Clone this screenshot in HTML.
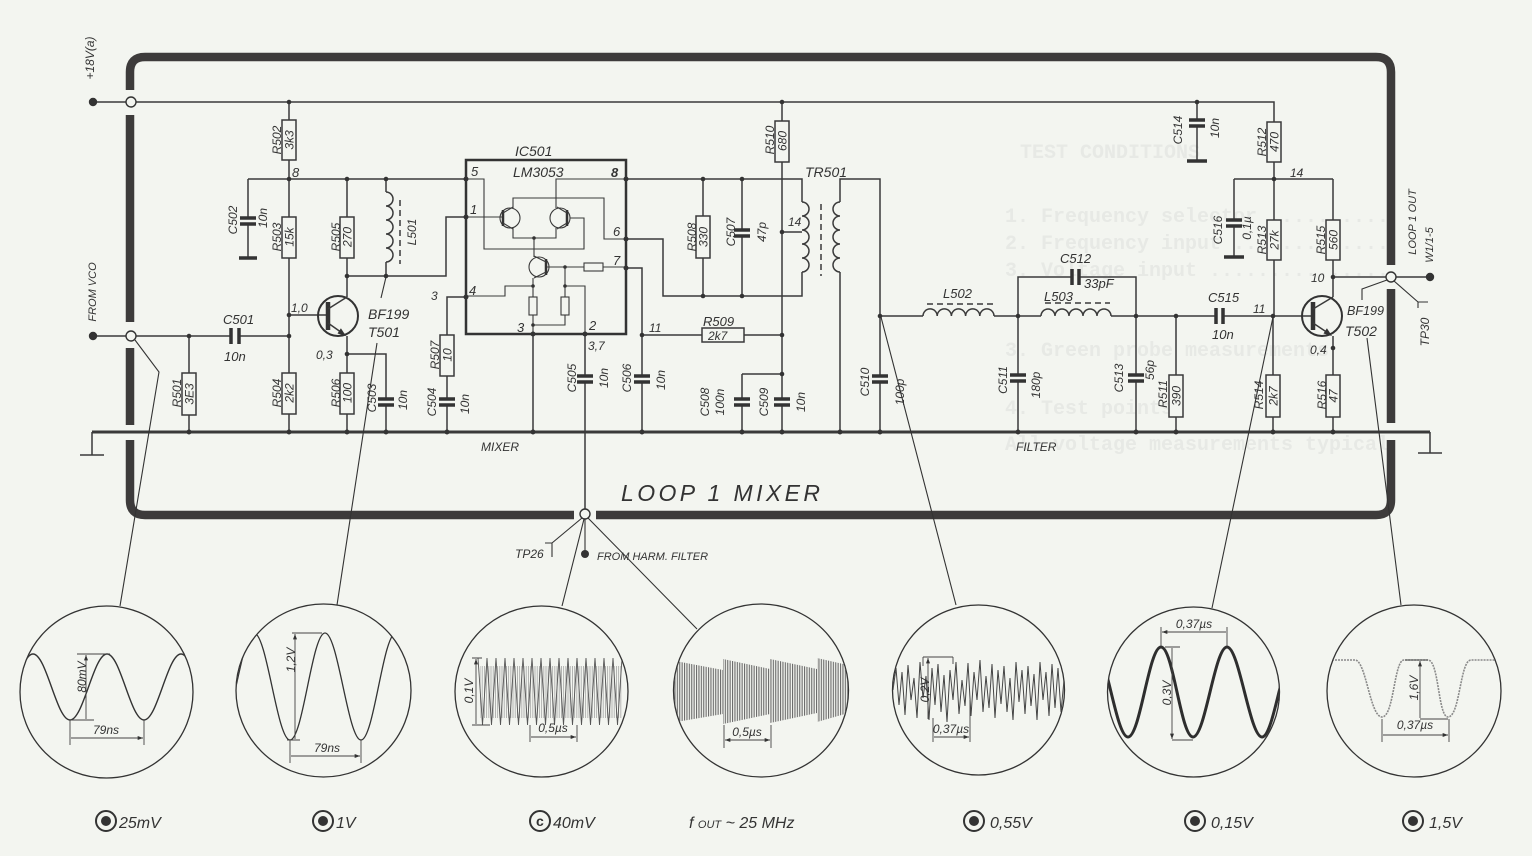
<!DOCTYPE html>
<html><head><meta charset="utf-8"><style>
html,body{margin:0;padding:0;background:#f3f5f0;}
svg{display:block}
.w{stroke:#3a3a3a;stroke-width:1.5;fill:none}
.th{stroke:#3a3a3a;stroke-width:1.1;fill:none}
.pl{stroke:#333;stroke-width:3.5;fill:none}
.r{stroke:#3a3a3a;stroke-width:1.5;fill:#f3f5f0}
.ld{stroke:#333;stroke-width:1.1;fill:none}
.dm{stroke:#444;stroke-width:0.9;fill:none}
.t{font-family:"Liberation Sans",sans-serif;font-style:italic;font-size:12px;fill:#333}
.t14{font-family:"Liberation Sans",sans-serif;font-style:italic;font-size:14px;fill:#333}
.g{font-family:"Liberation Mono",monospace;font-weight:bold;font-size:20px;fill:#e7e9e5}
</style></head><body>
<svg width="1532" height="856" viewBox="0 0 1532 856" xmlns="http://www.w3.org/2000/svg">
<defs>
<marker id="a" viewBox="0 0 8 6" refX="8" refY="3" markerWidth="6" markerHeight="4" markerUnits="userSpaceOnUse" orient="auto-start-reverse"><path d="M0,0 L8,3 L0,6z" fill="#333"/></marker>
<pattern id="vl" width="2.4" height="4" patternUnits="userSpaceOnUse"><rect width="1.1" height="4" fill="#6a6a6a"/></pattern>
<pattern id="vl2" width="2.2" height="4" patternUnits="userSpaceOnUse"><rect width="0.8" height="4" fill="#a5a5a5"/></pattern>
<clipPath id="c1"><ellipse cx="106.5" cy="692" rx="86" ry="85.5"/></clipPath>
<clipPath id="c2"><ellipse cx="323.5" cy="690.5" rx="87" ry="86"/></clipPath>
<clipPath id="c3"><ellipse cx="541.5" cy="691.5" rx="86" ry="85"/></clipPath>
<clipPath id="c4"><ellipse cx="761" cy="690.5" rx="87" ry="86"/></clipPath>
<clipPath id="c5"><ellipse cx="978.5" cy="690" rx="85.5" ry="84.5"/></clipPath>
<clipPath id="c6"><ellipse cx="1193.5" cy="692" rx="85.5" ry="84.5"/></clipPath>
<clipPath id="c7"><ellipse cx="1414" cy="691" rx="86.5" ry="85.5"/></clipPath>
</defs>
<rect width="1532" height="856" fill="#f3f5f0"/>

<!-- ghost bleed-through text -->
<text class="g" x="1020" y="158" font-size="22">TEST CONDITIONS</text>
<text class="g" x="1005" y="222">1. Frequency selector ..........</text>
<text class="g" x="1005" y="249">2. Frequency input .............</text>
<text class="g" x="1005" y="276">3. Voltage input ...............</text>
<text class="g" x="1005" y="356">3. Green probe measurements</text>
<text class="g" x="1005" y="414">4. Test points</text>
<text class="g" x="1005" y="450">All voltage measurements typical</text>

<!-- frame -->
<path d="M130,90 V72 Q130,57 145,57 H1376 Q1391,57 1391,72 V265 M1391,289 V423 M1391,440 V500 Q1391,515 1376,515 H596 M574,515 H145 Q130,515 130,500 V440 M130,425 V348 M130,322 V115" stroke="#3d3b3b" stroke-width="8.5" fill="none"/>

<!-- ground bus -->
<path d="M92,432 H1430" stroke="#3a3a3a" stroke-width="3" fill="none"/>
<path class="w" d="M92,432 V455 M80,455 H104 M1430,432 V453 M1418,453 H1442" stroke-width="2"/>

<!-- wires -->
<path class="w" d="
M97,102 H126 M136,102 H1274 V122 M1274,162 V179
M289,102 V120 M289,160 V217 M289,258 V373 M289,414 V432
M248,179 H466 M248,179 V218 M248,224 V258
M347,179 V217 M347,258 V297
M386,179 V192 M386,262 V276
M347,276 H446 V217 H466
M289,315 H328
M347,336 V373 M347,414 V432
M347,354 H386 V399 M386,405 V432
M97,336 H126 M136,336 H231 M239,336 H289
M189,336 V373 M189,415 V432
M466,297 H447 V335 M447,376 V399 M447,405 V432
M626,179 H802 V202 M802,272 V296 H663 V239 H626
M703,179 V216 M703,258 V296
M742,179 V230 M742,236 V296
M782,102 V121 M782,162 V399 M782,405 V432
M782,232 H802
M626,268 H642 V376 M642,382 V432
M642,335 H702 M744,335 H782
M742,374 H782 M742,374 V399 M742,405 V432
M585,334 V376 M585,382 V509
M533,334 V432
M880,316 V376 M880,382 V432
M880,316 V179 H840 V202 M840,272 V432
M880,316 H923 M994,316 H1041 M1111,316 H1216 M1223,316 H1313
M1018,316 V277 H1072 M1079,277 H1136 V316
M1018,316 V375 M1018,381 V432
M1136,316 V375 M1136,381 V432
M1176,316 V375 M1176,417 V432
M1273,316 V375 M1273,417 V432
M1197,102 V120 M1197,126 V160
M1234,179 H1333 M1234,179 V220 M1234,226 V256
M1274,179 V220 M1274,260 V316
M1333,179 V220 M1333,260 V297
M1333,277 H1386 M1396,277 H1426
M1333,336 V375 M1333,417 V432
"/>

<!-- coils -->
<path class="w" d="M386,192 a7,7 0 0 1 0,14 a7,7 0 0 1 0,14 a7,7 0 0 1 0,14 a7,7 0 0 1 0,14 a7,7 0 0 1 0,14"/>
<path class="w" d="M802,202 a7,7 0 0 1 0,14 a7,7 0 0 1 0,14 a7,7 0 0 1 0,14 a7,7 0 0 1 0,14 a7,7 0 0 1 0,14"/>
<path class="w" d="M840,202 a7,7 0 0 0 0,14 a7,7 0 0 0 0,14 a7,7 0 0 0 0,14 a7,7 0 0 0 0,14 a7,7 0 0 0 0,14"/>
<path class="w" d="M923,316 a7.1,7.1 0 0 1 14.2,0 a7.1,7.1 0 0 1 14.2,0 a7.1,7.1 0 0 1 14.2,0 a7.1,7.1 0 0 1 14.2,0 a7.1,7.1 0 0 1 14.2,0"/>
<path class="w" d="M1041,316 a7,7 0 0 1 14,0 a7,7 0 0 1 14,0 a7,7 0 0 1 14,0 a7,7 0 0 1 14,0 a7,7 0 0 1 14,0"/>
<path class="w" stroke-dasharray="6,4" d="M400,200 V264 M821,204 V276 M927,304 H995 M1045,303 H1110"/>

<!-- capacitor plates -->
<path class="pl" d="
M240,218 h16 M240,224 h16 M239,258 h18
M231,328 v16 M239,328 v16
M378,399 h16 M378,405 h16
M439,399 h16 M439,405 h16
M577,376 h16 M577,382 h16
M634,376 h16 M634,382 h16
M734,230 h16 M734,236 h16
M734,399 h16 M734,405 h16
M774,399 h16 M774,405 h16
M872,376 h16 M872,382 h16
M1010,375 h16 M1010,381 h16
M1128,375 h16 M1128,381 h16
M1072,269 v16 M1079,269 v16
M1216,308 v16 M1223,308 v16
M1189,120 h16 M1189,126 h16 M1187,161 h20
M1226,220 h16 M1226,226 h16 M1224,257 h20
"/>

<!-- resistors -->
<g class="r">
<rect x="282" y="120" width="14" height="40"/>
<rect x="282" y="217" width="14" height="41"/>
<rect x="340" y="217" width="14" height="41"/>
<rect x="182" y="373" width="14" height="42"/>
<rect x="282" y="373" width="14" height="41"/>
<rect x="340" y="373" width="14" height="41"/>
<rect x="440" y="335" width="14" height="41"/>
<rect x="696" y="216" width="14" height="42"/>
<rect x="775" y="121" width="14" height="41"/>
<rect x="702" y="328" width="42" height="14"/>
<rect x="1267" y="122" width="14" height="40"/>
<rect x="1267" y="220" width="14" height="40"/>
<rect x="1326" y="220" width="14" height="40"/>
<rect x="1169" y="375" width="14" height="42"/>
<rect x="1266" y="375" width="14" height="42"/>
<rect x="1326" y="375" width="14" height="42"/>
</g>

<!-- transistors -->
<circle cx="338" cy="316" r="20" stroke="#333" stroke-width="2" fill="none"/>
<path d="M328,302 V330" stroke="#333" stroke-width="4.5"/>
<path class="w" d="M328,309 L347,297 M328,323 L345,335"/>
<polygon points="346,336 337.5,333.5 340.9,328.2" fill="#333"/>
<circle cx="1322" cy="316" r="20" stroke="#333" stroke-width="2" fill="none"/>
<path d="M1313,302 V330" stroke="#333" stroke-width="4.5"/>
<path class="w" d="M1313,309 L1333,297 M1313,323 L1331,335"/>
<polygon points="1332,336 1323.5,333.5 1326.9,328.2" fill="#333"/>

<!-- IC -->
<rect x="466" y="160" width="160" height="174" stroke="#333" stroke-width="2.5" fill="none"/>
<path class="th" d="
M466,179 H484 V249 H584 V218 H570
M466,217 H503
M513,208 V198 H604 V239 H626
M556,208 V179 H626
M513,228 V238 H556 V228
M534,238 V257
M546,267 H584 M603,267 H626
M565,267 V286 H585 V334
M533,278 V297 M533,315 V334
M533,286 H505 V296 H466
M565,286 V297 M565,315 V325 H533
"/>
<circle cx="510" cy="218" r="10" class="th"/>
<path d="M503,210 V226" stroke="#333" stroke-width="2.5"/>
<path class="th" d="M503,213 L513,207 M503,223 L513,229"/>
<circle cx="560" cy="218" r="10" class="th"/>
<path d="M567,210 V226" stroke="#333" stroke-width="2.5"/>
<path class="th" d="M567,213 L557,207 M567,223 L557,229"/>
<circle cx="539" cy="267" r="10" class="th"/>
<path d="M546,259 V275" stroke="#333" stroke-width="2.5"/>
<path class="th" d="M546,262 L534,256 M546,272 L534,278"/>
<rect x="584" y="263" width="19" height="8" class="th" fill="#f3f5f0"/>
<rect x="529" y="297" width="8" height="18" class="th" fill="#f3f5f0"/>
<rect x="561" y="297" width="8" height="18" class="th" fill="#f3f5f0"/>

<!-- junction dots -->
<g fill="#333">
<circle cx="289" cy="102" r="2.3"/><circle cx="782" cy="102" r="2.3"/><circle cx="1197" cy="102" r="2.3"/>
<circle cx="289" cy="179" r="2.3"/><circle cx="347" cy="179" r="2.3"/><circle cx="386" cy="179" r="2.3"/><circle cx="466" cy="179" r="2.5"/><circle cx="626" cy="179" r="2.5"/>
<circle cx="466" cy="217" r="2.5"/><circle cx="466" cy="297" r="2.5"/><circle cx="626" cy="239" r="2.5"/><circle cx="626" cy="268" r="2.5"/>
<circle cx="533" cy="334" r="2.5"/><circle cx="585" cy="334" r="2.5"/><circle cx="534" cy="238" r="1.8"/><circle cx="565" cy="267" r="1.8"/><circle cx="565" cy="286" r="1.8"/><circle cx="533" cy="286" r="1.8"/><circle cx="533" cy="325" r="1.8"/>
<circle cx="289" cy="315" r="2.3"/><circle cx="289" cy="336" r="2.3"/><circle cx="189" cy="336" r="2.3"/>
<circle cx="347" cy="276" r="2.3"/><circle cx="386" cy="276" r="2.3"/><circle cx="347" cy="354" r="2.3"/>
<circle cx="703" cy="179" r="2.3"/><circle cx="742" cy="179" r="2.3"/><circle cx="703" cy="296" r="2.3"/><circle cx="742" cy="296" r="2.3"/>
<circle cx="782" cy="232" r="2.3"/><circle cx="782" cy="335" r="2.3"/><circle cx="782" cy="374" r="2.3"/><circle cx="642" cy="335" r="2.3"/>
<circle cx="880" cy="316" r="2.3"/><circle cx="1018" cy="316" r="2.3"/><circle cx="1136" cy="316" r="2.3"/><circle cx="1176" cy="316" r="2.3"/><circle cx="1273" cy="316" r="2.3"/>
<circle cx="1274" cy="179" r="2.3"/><circle cx="1333" cy="277" r="2.3"/><circle cx="1333" cy="348" r="2.3"/>
<circle cx="189" cy="432" r="2.5"/><circle cx="289" cy="432" r="2.5"/><circle cx="347" cy="432" r="2.5"/><circle cx="386" cy="432" r="2.5"/><circle cx="447" cy="432" r="2.5"/><circle cx="533" cy="432" r="2.5"/><circle cx="642" cy="432" r="2.5"/><circle cx="742" cy="432" r="2.5"/><circle cx="782" cy="432" r="2.5"/><circle cx="840" cy="432" r="2.5"/><circle cx="880" cy="432" r="2.5"/><circle cx="1018" cy="432" r="2.5"/><circle cx="1136" cy="432" r="2.5"/><circle cx="1176" cy="432" r="2.5"/><circle cx="1273" cy="432" r="2.5"/><circle cx="1333" cy="432" r="2.5"/>
<circle cx="93" cy="102" r="4.2"/><circle cx="93" cy="336" r="4.2"/><circle cx="1430" cy="277" r="4.2"/><circle cx="585" cy="554" r="4"/>
</g>
<g fill="#f3f5f0" stroke="#333" stroke-width="1.4">
<circle cx="131" cy="102" r="5"/><circle cx="131" cy="336" r="5"/><circle cx="1391" cy="277" r="5"/><circle cx="585" cy="514" r="5"/>
</g>

<!-- leader lines -->
<path class="ld" d="
M135,340 L159,372 L120,606
M386,277 L381,298
M377,343 L337,605
M881,317 L956,605
M1273,317 L1212,608
M1367,338 L1401,605
M1387,280 L1362,289 L1362,300
M1394,281 L1418,302 M1418,302 H1428 M1418,302 V308
M582,518 L552,543 M545,543 H552 V557
M585,519 V554
M584,519 L562,606
M588,518 L697,629
"/>

<!-- labels: horizontal -->
<g class="t">
<text x="292" y="177" font-size="13">8</text>
<text x="291" y="312">1,0</text>
<text x="316" y="359">0,3</text>
<text x="223" y="324" font-size="13">C501</text>
<text x="224" y="361" font-size="13">10n</text>
<text x="431" y="300">3</text>
<text x="471" y="176" font-size="13">5</text>
<text x="470" y="214" font-size="13">1</text>
<text x="469" y="295" font-size="13">4</text>
<text x="611" y="177" font-size="13" font-weight="bold">8</text>
<text x="613" y="236" font-size="13">6</text>
<text x="613" y="265" font-size="13">7</text>
<text x="517" y="332" font-size="13">3</text>
<text x="589" y="330" font-size="13">2</text>
<text x="588" y="350">3,7</text>
<text x="649" y="332">11</text>
<text x="703" y="326" font-size="13">R509</text>
<text x="788" y="226">14</text>
<text x="481" y="451">MIXER</text>
<text x="1016" y="451">FILTER</text>
<text x="943" y="298" font-size="13">L502</text>
<text x="1044" y="301" font-size="13">L503</text>
<text x="1060" y="263" font-size="13">C512</text>
<text x="1084" y="288" font-size="13">33pF</text>
<text x="1208" y="302" font-size="13">C515</text>
<text x="1212" y="339" font-size="13">10n</text>
<text x="1253" y="313">11</text>
<text x="1290" y="177">14</text>
<text x="1311" y="282">10</text>
<text x="1310" y="354">0,4</text>
<text x="515" y="558">TP26</text>
<text x="597" y="560" font-size="11">FROM HARM. FILTER</text>
</g>
<text class="t" x="708" y="340" font-size="12">2k7</text>
<g class="t14">
<text x="368" y="319">BF199</text>
<text x="368" y="337">T501</text>
<text x="515" y="156">IC501</text>
<text x="513" y="177">LM3053</text>
<text x="805" y="177">TR501</text>
<text x="1347" y="315" font-size="13" textLength="37" lengthAdjust="spacingAndGlyphs">BF199</text>
<text x="1345" y="336">T502</text>
</g>
<text x="621" y="501" textLength="199" lengthAdjust="spacing" style="font-family:'Liberation Sans',sans-serif;font-style:italic;font-size:23px;fill:#333">LOOP  1  MIXER</text>

<!-- rotated labels -->
<g class="t" text-anchor="middle">
<text transform="translate(94,58) rotate(-90)" font-size="12">+18V(a)</text>
<text transform="translate(96,292) rotate(-90)" font-size="11">FROM VCO</text>
<text transform="translate(1416,222) rotate(-90)" font-size="11">LOOP 1 OUT</text>
<text transform="translate(1433,245) rotate(-90)" font-size="11">W1/1-5</text>
<text transform="translate(1429,332) rotate(-90)" font-size="12">TP30</text>
<text transform="translate(281,140) rotate(-90)">R502</text>
<text transform="translate(293.5,140) rotate(-90)">3k3</text>
<text transform="translate(237,220) rotate(-90)">C502</text>
<text transform="translate(267,218) rotate(-90)">10n</text>
<text transform="translate(281,237) rotate(-90)">R503</text>
<text transform="translate(293.5,237) rotate(-90)">15k</text>
<text transform="translate(340,237) rotate(-90)">R505</text>
<text transform="translate(351.5,237) rotate(-90)">270</text>
<text transform="translate(416,232) rotate(-90)">L501</text>
<text transform="translate(181,393) rotate(-90)">R501</text>
<text transform="translate(193.5,394) rotate(-90)">3E3</text>
<text transform="translate(281,393) rotate(-90)">R504</text>
<text transform="translate(293.5,393) rotate(-90)">2k2</text>
<text transform="translate(340,393) rotate(-90)">R506</text>
<text transform="translate(351.5,393) rotate(-90)">100</text>
<text transform="translate(376,398) rotate(-90)">C503</text>
<text transform="translate(407,400) rotate(-90)">10n</text>
<text transform="translate(439,355) rotate(-90)">R507</text>
<text transform="translate(451.5,355) rotate(-90)">10</text>
<text transform="translate(436,402) rotate(-90)">C504</text>
<text transform="translate(469,404) rotate(-90)">10n</text>
<text transform="translate(576,378) rotate(-90)">C505</text>
<text transform="translate(608,378) rotate(-90)">10n</text>
<text transform="translate(631,378) rotate(-90)">C506</text>
<text transform="translate(665,380) rotate(-90)">10n</text>
<text transform="translate(696,237) rotate(-90)">R508</text>
<text transform="translate(707.5,237) rotate(-90)">330</text>
<text transform="translate(735,232) rotate(-90)">C507</text>
<text transform="translate(766,232) rotate(-90)">47p</text>
<text transform="translate(774,140) rotate(-90)">R510</text>
<text transform="translate(786.5,141) rotate(-90)">680</text>
<text transform="translate(709,402) rotate(-90)">C508</text>
<text transform="translate(724,402) rotate(-90)">100n</text>
<text transform="translate(768,402) rotate(-90)">C509</text>
<text transform="translate(805,402) rotate(-90)">10n</text>
<text transform="translate(869,382) rotate(-90)">C510</text>
<text transform="translate(904,392) rotate(-90)">100p</text>
<text transform="translate(1182,130) rotate(-90)">C514</text>
<text transform="translate(1219,128) rotate(-90)">10n</text>
<text transform="translate(1266,142) rotate(-90)">R512</text>
<text transform="translate(1278.5,142) rotate(-90)">470</text>
<text transform="translate(1222,230) rotate(-90)">C516</text>
<text transform="translate(1251,228) rotate(-90)">0,1µ</text>
<text transform="translate(1266,240) rotate(-90)">R513</text>
<text transform="translate(1278.5,240) rotate(-90)">27k</text>
<text transform="translate(1325,240) rotate(-90)">R515</text>
<text transform="translate(1337.5,240) rotate(-90)">560</text>
<text transform="translate(1007,380) rotate(-90)">C511</text>
<text transform="translate(1040,385) rotate(-90)">180p</text>
<text transform="translate(1123,378) rotate(-90)">C513</text>
<text transform="translate(1154,370) rotate(-90)">56p</text>
<text transform="translate(1167,394) rotate(-90)">R511</text>
<text transform="translate(1180.5,396) rotate(-90)">390</text>
<text transform="translate(1263,395) rotate(-90)">R514</text>
<text transform="translate(1277.5,396) rotate(-90)">2k7</text>
<text transform="translate(1326,395) rotate(-90)">R516</text>
<text transform="translate(1337.5,396) rotate(-90)">47</text>
</g>

<!-- scopes -->
<g stroke="#333" stroke-width="1.3" fill="none">
<ellipse cx="106.5" cy="692" rx="86.5" ry="86"/>
<ellipse cx="323.5" cy="690.5" rx="87.5" ry="86.5"/>
<ellipse cx="541.5" cy="691.5" rx="86.5" ry="85.5"/>
<ellipse cx="761" cy="690.5" rx="87.5" ry="86.5"/>
<ellipse cx="978.5" cy="690" rx="86" ry="85"/>
<ellipse cx="1193.5" cy="692" rx="86" ry="85"/>
<ellipse cx="1414" cy="691" rx="87" ry="86"/>
</g>

<!-- scope 1 -->
<path clip-path="url(#c1)" d="M-4,720 C9.5,720 19.5,654 33,654 C46.5,654 56.5,720 70,720 C83.5,720 93.5,654 107,654 C120.5,654 130.5,720 144,720 C157.5,720 167.5,654 181,654 C194.5,654 204.5,720 218,720" stroke="#333" stroke-width="1.4" fill="none"/>
<path class="dm" d="M77,654 H110 M70,720 H94 M70,720 V745 M144,720 V745"/>
<path class="dm" marker-start="url(#a)" marker-end="url(#a)" d="M86,655 V719 M71,738 H143"/>
<text class="t" transform="translate(86,677) rotate(-90)" text-anchor="middle" font-size="13">80mV</text>
<text class="t" x="106" y="734" text-anchor="middle" font-size="13">79ns</text>

<!-- scope 2 -->
<path clip-path="url(#c2)" d="M218,740 C231,740 241,633 254,633 C267,633 277,740 290,740 C303,740 312,633 325,633 C338,633 348,740 361,740 C374,740 383,633 396,633 C409,633 419,740 432,740" stroke="#333" stroke-width="1.3" fill="none"/>
<path class="dm" d="M292,633 H322 M287,740 H300 M290,740 V763 M361,740 V763"/>
<path class="dm" marker-start="url(#a)" marker-end="url(#a)" d="M295,634 V739 M291,756 H360"/>
<text class="t" transform="translate(295,660) rotate(-90)" text-anchor="middle" font-size="13">1,2V</text>
<text class="t" x="327" y="752" text-anchor="middle" font-size="13">79ns</text>

<!-- scope 3 -->
<g clip-path="url(#c3)">
<rect x="480" y="666" width="142" height="52" fill="url(#vl2)"/>
<polyline fill="none" stroke="#555" stroke-width="0.9" points="478,658 482.5,725 487,658 491.5,725 496,658 500.5,725 505,658 509.5,725 514,658 518.5,725 523,658 527.5,725 532,658 536.5,725 541,658 545.5,725 550,658 554.5,725 559,658 563.5,725 568,658 572.5,725 577,658 581.5,725 586,658 590.5,725 595,658 599.5,725 604,658 608.5,725 613,658 617.5,725 622,658"/>
</g>
<path class="dm" d="M472,658 H482 M472,725 H490 M530,725 V742 M577,725 V742"/>
<path class="dm" marker-start="url(#a)" marker-end="url(#a)" d="M476,659 V724 M531,737 H576"/>
<text class="t" transform="translate(473,691) rotate(-90)" text-anchor="middle">0,1V</text>
<text class="t" x="553" y="732" text-anchor="middle">0,5µs</text>

<!-- scope 4 -->
<g clip-path="url(#c4)">
<polygon points="670,660 723,670 723,714 670,723" fill="url(#vl)"/>
<polygon points="723,659 770,669 770,714 723,724" fill="url(#vl)"/>
<polygon points="770,659 817,669 817,713 770,723" fill="url(#vl)"/>
<polygon points="817,658 852,666 852,712 817,722" fill="url(#vl)"/>
</g>
<path class="dm" d="M724,725 V748 M771,725 V748"/>
<path class="dm" marker-start="url(#a)" marker-end="url(#a)" d="M725,740 H770"/>
<text class="t" x="747" y="736" text-anchor="middle" font-size="13">0,5µs</text>

<!-- scope 5 -->
<polyline clip-path="url(#c5)" fill="none" stroke="#444" stroke-width="1" points="893,690 896,668 899,705 902,672 905,715 908,665 911,700 914,678 917,718 920,662 923,698 926,676 929,720 932,668 935,705 938,664 941,712 944,675 947,722 950,670 953,700 956,662 959,714 962,680 965,706 968,663 971,716 974,672 977,700 980,660 983,712 986,676 989,708 992,664 995,718 998,670 1001,704 1004,666 1007,712 1010,678 1013,720 1016,662 1019,702 1022,670 1025,714 1028,666 1031,706 1034,674 1037,720 1040,662 1043,700 1046,672 1049,716 1052,664 1055,708 1058,668 1061,712 1064,680"/>
<path class="dm" d="M923,657 H953 M923,657 V666 M953,657 V664 M933,718 V742 M970,700 V742"/>
<path class="dm" marker-start="url(#a)" marker-end="url(#a)" d="M928,658 V719 M934,737 H969"/>
<text class="t" transform="translate(929,690) rotate(-90)" text-anchor="middle" font-size="9">0,2V</text>
<text class="t" x="951" y="733" text-anchor="middle" font-size="11">0,37µs</text>

<!-- scope 6 -->
<path clip-path="url(#c6)" d="M1061,737 C1073.2,737 1081.8,647 1094,647 C1106.2,647 1115.8,737 1128,737 C1140.2,737 1148.8,647 1161,647 C1173.2,647 1180.8,737 1193,737 C1205.2,737 1214.8,647 1227,647 C1239.2,647 1249.8,737 1262,737 C1274.2,737 1283.8,647 1296,647" stroke="#2e2e2e" stroke-width="3" fill="none"/>
<path class="dm" d="M1161,627 V646 M1227,627 V646 M1165,647 H1180 M1172,740 H1193"/>
<path class="dm" marker-start="url(#a)" marker-end="url(#a)" d="M1162,632 H1226 M1172,648 V739"/>
<text class="t" x="1194" y="628" text-anchor="middle" font-size="12">0,37µs</text>
<text class="t" transform="translate(1171,693) rotate(-90)" text-anchor="middle" font-size="13">0,3V</text>

<!-- scope 7 -->
<path clip-path="url(#c7)" d="M1320,660 H1355 C1366,660 1370,717 1382,717 C1394,717 1394,660 1404,660 H1428 C1439,660 1438,717 1448,717 C1460,717 1460,660 1471,660 H1510" stroke="#8a8a8a" stroke-width="1.6" fill="none" stroke-dasharray="2,1"/>
<path class="dm" d="M1405,660 H1428 M1420,719 H1448 M1382,719 V742 M1449,719 V742"/>
<path class="dm" marker-start="url(#a)" marker-end="url(#a)" d="M1420,661 V718 M1383,735 H1448"/>
<text class="t" transform="translate(1418,688) rotate(-90)" text-anchor="middle" font-size="13">1,6V</text>
<text class="t" x="1415" y="729" text-anchor="middle" font-size="12">0,37µs</text>

<!-- bottom probe labels -->
<g stroke="#333" stroke-width="2" fill="none">
<circle cx="106" cy="821" r="10"/><circle cx="323" cy="821" r="10"/><circle cx="540" cy="821" r="10"/>
<circle cx="974" cy="821" r="10"/><circle cx="1195" cy="821" r="10"/><circle cx="1413" cy="821" r="10"/>
</g>
<g fill="#333">
<circle cx="106" cy="821" r="5"/><circle cx="323" cy="821" r="5"/>
<circle cx="974" cy="821" r="5"/><circle cx="1195" cy="821" r="5"/><circle cx="1413" cy="821" r="5"/>
</g>
<g style="font-family:'Liberation Sans',sans-serif;font-style:italic;font-size:16px;fill:#333">
<text x="536" y="826" font-weight="bold" font-style="normal" font-size="14">c</text>
<text x="119" y="828">25mV</text>
<text x="336" y="828">1V</text>
<text x="553" y="828">40mV</text>
<text x="689" y="828">f <tspan font-size="11">OUT</tspan> ~ 25 MHz</text>
<text x="990" y="828">0,55V</text>
<text x="1211" y="828">0,15V</text>
<text x="1429" y="828">1,5V</text>
</g>
</svg>
</body></html>
